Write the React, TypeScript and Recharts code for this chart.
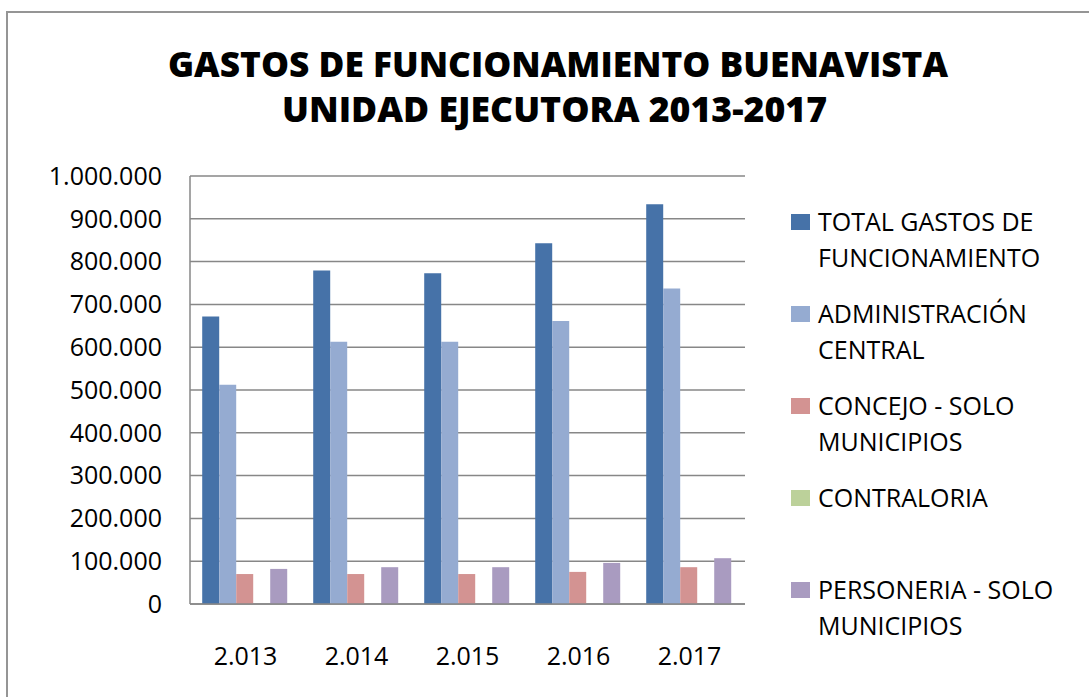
import { Bar, BarChart, CartesianGrid, Legend, XAxis, YAxis } from "recharts"

const years = ["2.013", "2.014", "2.015", "2.016", "2.017"]
const totalGastos = [672000, 779000, 773000, 843000, 934000]
const administracion = [512000, 613000, 613000, 661000, 737000]
const concejo = [70000, 70000, 70000, 75000, 86000]
const contraloria = [0, 0, 0, 0, 0]
const personeria = [82000, 86000, 86000, 96000, 107000]
const yTicks = [0, 100000, 200000, 300000, 400000, 500000, 600000, 700000, 800000, 900000, 1000000]

const titleLines = ["GASTOS DE FUNCIONAMIENTO BUENAVISTA", "UNIDAD EJECUTORA 2013-2017"]

const series = [
  { key: "total", label: ["TOTAL GASTOS  DE", "FUNCIONAMIENTO"], color: "#4672a8" },
  { key: "admin", label: ["ADMINISTRACIÓN", "CENTRAL"], color: "#95abd1" },
  { key: "concejo", label: ["CONCEJO - SOLO", "MUNICIPIOS"], color: "#d39392" },
  { key: "contraloria", label: ["CONTRALORIA"], color: "#bcd19a" },
  { key: "personeria", label: ["PERSONERIA  - SOLO", "MUNICIPIOS"], color: "#a99bc0" },
]

const data = years.map((year, i) => ({
  year,
  total: totalGastos[i],
  admin: administracion[i],
  concejo: concejo[i],
  contraloria: contraloria[i],
  personeria: personeria[i],
}))

const FONT = "'Open Sans', 'Liberation Sans', sans-serif"
const GRID = "#878787"

const fmt = (v: number) => String(v).replace(/\B(?=(\d{3})+(?!\d))/g, ".")

function LegendBox() {
  return (
    <div style={{ fontFamily: FONT, fontSize: 25, lineHeight: "36px", color: "#000" }}>
      {series.map((s, i) => (
        <div key={s.key} style={{ position: "absolute", left: 0, top: i * 92, display: "flex" }}>
          <div style={{ width: 19, height: 16, background: s.color, marginTop: 11, marginRight: 8 }} />
          <div style={{ whiteSpace: "nowrap" }}>
            {s.label.map((l) => (
              <div key={l}>{l}</div>
            ))}
          </div>
        </div>
      ))}
    </div>
  )
}

export default function App() {
  return (
    <div style={{ position: "absolute", left: 0, top: 0, width: 1089, height: 697, background: "#fff", overflow: "hidden" }}>
      <div
        style={{
          position: "absolute",
          left: 6,
          top: 11,
          width: 1200,
          height: 800,
          borderLeft: "2px solid #959595",
          borderTop: "2px solid #959595",
        }}
      />
      <BarChart
        width={1089}
        height={697}
        data={data}
        margin={{ top: 176, right: 344, bottom: 33, left: 90 }}
        barCategoryGap="11%"
        barGap={0}
      >
        <CartesianGrid vertical={false} stroke={GRID} strokeWidth={1.5} />
        <XAxis
          dataKey="year"
          height={60}
          tickLine={false}
          tickSize={0}
          tickMargin={43}
          axisLine={{ stroke: GRID, strokeWidth: 1.5 }}
          tick={{ fill: "#000", fontSize: 25, fontFamily: FONT }}
        />
        <YAxis
          width={100}
          domain={[0, 1000000]}
          ticks={yTicks}
          tickFormatter={fmt}
          tickLine={false}
          tickSize={0}
          tickMargin={28}
          axisLine={{ stroke: GRID, strokeWidth: 1.5 }}
          tick={{ fill: "#000", fontSize: 25, fontFamily: FONT }}
        />
        <Legend
          layout="vertical"
          align="center"
          verticalAlign="middle"
          content={() => <LegendBox />}
          wrapperStyle={{ left: 791, top: 203, width: 290, height: 460 }}
        />
        {series.map((s) => (
          <Bar key={s.key} dataKey={s.key} fill={s.color} isAnimationActive={false} />
        ))}
      </BarChart>
      <svg width={1089} height={140} style={{ position: "absolute", left: 0, top: 0, pointerEvents: "none" }}>
        <text
          x={168}
          y={77}
          textLength={780}
          lengthAdjust="spacingAndGlyphs"
          fontFamily={FONT}
          fontWeight={800}
          fontSize={36}
          fill="#000"
        >
          {titleLines[0]}
        </text>
        <text
          x={282}
          y={122}
          textLength={545}
          lengthAdjust="spacingAndGlyphs"
          fontFamily={FONT}
          fontWeight={800}
          fontSize={36}
          fill="#000"
        >
          {titleLines[1]}
        </text>
      </svg>
    </div>
  )
}
